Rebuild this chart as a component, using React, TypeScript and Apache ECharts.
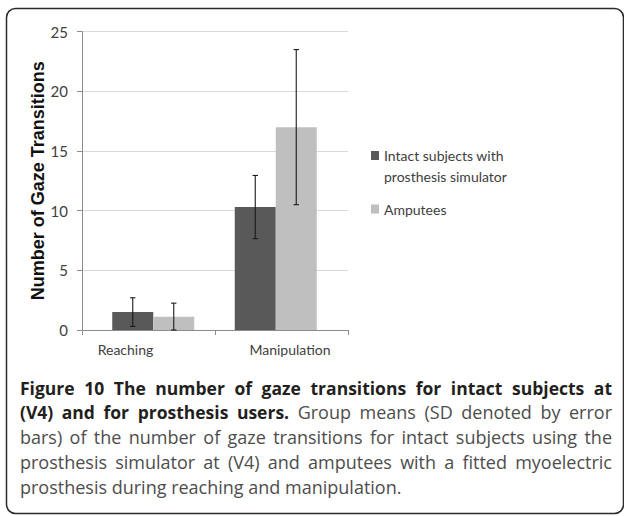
import React, { useEffect, useRef } from "react";
import * as echarts from "echarts";

const categories = ["Reaching", "Manipulation"];
const seriesNames = ["Intact subjects with prosthesis simulator", "Amputees"];
const legendLines: Record<string, string> = {
  "Intact subjects with prosthesis simulator": "Intact subjects with\nprosthesis simulator",
  Amputees: "Amputees",
};
const intactMeans = [1.5, 10.3];
const intactSD = [1.2, 2.65];
const amputeeMeans = [1.1, 17.0];
const amputeeSD = [1.15, 6.5];
const yMin = 0;
const yMax = 25;
const yInterval = 5;
const yAxisTitle = "Number of Gaze Transitions";
const captionBold1 = "Figure 10 The number of gaze transitions for intact subjects at";
const captionBold2 = "(V4) and for prosthesis users.";
const captionRest2 = "Group means (SD denoted by error";
const captionLines = [
  "bars) of the number of gaze transitions for intact subjects using the",
  "prosthesis simulator at (V4) and amputees with a fitted myoelectric",
  "prosthesis during reaching and manipulation.",
];

const BAR_W = 41;
const LABEL_FONT = "Lato, 'Open Sans', sans-serif";
const CAPTION_FAMILY = "'Open Sans', 'Noto Sans', sans-serif";
const BOLD = `bold 17.5px ${CAPTION_FAMILY}`;
const REG = `18px ${CAPTION_FAMILY}`;
const BOLD_FILL = "#231f20";
const REG_FILL = "#4d4d4d";
const CAPTION_X = 20;
const CAPTION_W = 592;

type Word = { t: string; b: boolean };

let measureCtx: CanvasRenderingContext2D | null = null;
function measure(text: string, font: string) {
  if (!measureCtx) measureCtx = document.createElement("canvas").getContext("2d");
  if (!measureCtx) return text.length * 8;
  measureCtx.font = font;
  return measureCtx.measureText(text).width;
}

function captionLine(words: Word[], y: number, justify: boolean) {
  const sum = words.reduce((a, w) => a + measure(w.t, w.b ? BOLD : REG), 0);
  const gap = justify ? Math.max(3, (CAPTION_W - sum) / (words.length - 1)) : measure(" ", REG);
  const text = words.map((w) => `{${w.b ? "b" : "r"}|${w.t}}`).join("{s| }");
  return {
    type: "text",
    x: CAPTION_X,
    y,
    silent: true,
    style: {
      text,
      verticalAlign: "middle",
      rich: {
        b: { font: BOLD, fill: BOLD_FILL },
        r: { font: REG, fill: REG_FILL },
        s: { font: REG, fill: REG_FILL, width: gap },
      },
    },
  };
}

const toWords = (s: string, b: boolean): Word[] => s.split(" ").map((t) => ({ t, b }));

function errorSeries(means: number[], sds: number[], offset: number) {
  return {
    type: "custom",
    silent: true,
    z: 5,
    xAxisIndex: 1,
    yAxisIndex: 1,
    data: means.map((m, i) => [i, m, sds[i]]),
    encode: { x: 0, y: 1 },
    renderItem: (params: any, api: any) => {
      const idx = api.value(0);
      const mean = api.value(1);
      const sd = api.value(2);
      const hi = api.coord([idx, mean + sd]);
      const lo = api.coord([idx, Math.max(0, mean - sd)]);
      const x = hi[0] + offset;
      const cap = 2.7;
      const st = { stroke: "#1a1a1a", lineWidth: 1.1 };
      return {
        type: "group",
        children: [
          { type: "line", shape: { x1: x, y1: hi[1], x2: x, y2: lo[1] }, style: st },
          { type: "line", shape: { x1: x - cap, y1: hi[1], x2: x + cap, y2: hi[1] }, style: st },
          { type: "line", shape: { x1: x - cap, y1: lo[1], x2: x + cap, y2: lo[1] }, style: st },
        ],
      };
    },
  };
}

export default function App() {
  const ref = useRef<HTMLDivElement>(null);
  useEffect(() => {
    if (!ref.current) return;
    const chart = echarts.init(ref.current, undefined, { renderer: "svg" });
    const captionGraphics: any[] = [
      {
        type: "rect",
        shape: { x: 6.5, y: 8.5, width: 617, height: 505, r: 9 },
        style: { fill: "none", stroke: "#2b2b2b", lineWidth: 1.5 },
        silent: true,
      },
      captionLine(toWords(captionBold1, true), 388, true),
      captionLine([...toWords(captionBold2, true), ...toWords(captionRest2, false)], 412, true),
      captionLine(toWords(captionLines[0], false), 437, true),
      captionLine(toWords(captionLines[1], false), 462, true),
      {
        type: "text",
        x: CAPTION_X,
        y: 487,
        silent: true,
        style: { text: captionLines[2], font: REG, fill: REG_FILL, verticalAlign: "middle" },
      },
    ];

    const axisGray = "#8c8c8c";
    chart.setOption({
      animation: false,
      backgroundColor: "#ffffff",
      grid: [
        { left: 82, right: 276, top: 31.7, bottom: 186, containLabel: false },
        { left: 92, right: 287, top: 31.7, bottom: 186, containLabel: false },
      ],
      legend: {
        data: seriesNames,
        orient: "vertical",
        left: 371,
        top: 124,
        padding: 0,
        itemGap: 11.5,
        itemWidth: 8,
        itemHeight: 9,
        icon: "rect",
        selectedMode: false,
        formatter: (name: string) => {
          const t = legendLines[name] || name;
          return t.indexOf("\n") >= 0 ? "\n" + t : t;
        },
        textStyle: {
          fontFamily: LABEL_FONT,
          fontSize: 14,
          lineHeight: 21,
          color: "#404040",
        },
      },
      xAxis: [
        {
          type: "category",
          gridIndex: 0,
          data: categories,
          axisLine: { lineStyle: { color: axisGray, width: 1 } },
          axisTick: { show: true, length: 5, lineStyle: { color: axisGray } },
          axisLabel: {
            fontFamily: LABEL_FONT,
            fontSize: 14,
            color: "#404040",
            margin: 12,
            formatter: (v: string, i: number) => (i === 0 ? `{l|${v}}` : `{r|${v}}`),
            rich: {
              l: { fontFamily: LABEL_FONT, fontSize: 14, color: "#404040", padding: [0, 46, 0, 0] },
              r: { fontFamily: LABEL_FONT, fontSize: 14, color: "#404040", padding: [0, 0, 0, 17] },
            },
          },
        },
        {
          type: "category",
          gridIndex: 1,
          data: categories,
          show: false,
        },
      ],
      yAxis: [
        {
          type: "value",
          gridIndex: 0,
          min: yMin,
          max: yMax,
          interval: yInterval,
          name: yAxisTitle,
          nameLocation: "middle",
          nameGap: 34,
          nameRotate: 90,
          nameTextStyle: {
            fontFamily: "'Liberation Sans', Arial, sans-serif",
            fontWeight: "bold",
            fontSize: 18,
            color: "#111111",
          },
          axisLine: { show: true, lineStyle: { color: axisGray, width: 1 } },
          axisTick: { show: true, length: 5, lineStyle: { color: axisGray } },
          axisLabel: { fontFamily: LABEL_FONT, fontSize: 15, color: "#404040", margin: 14 },
          splitLine: { lineStyle: { color: "#d9d9d9", width: 1 } },
        },
        {
          type: "value",
          gridIndex: 1,
          min: yMin,
          max: yMax,
          interval: yInterval,
          show: false,
          splitLine: { show: false },
        },
      ],
      series: [
        {
          name: seriesNames[0],
          type: "bar",
          xAxisIndex: 1,
          yAxisIndex: 1,
          data: intactMeans,
          barWidth: BAR_W,
          barGap: "0%",
          itemStyle: { color: "#595959" },
        },
        {
          name: seriesNames[1],
          type: "bar",
          xAxisIndex: 1,
          yAxisIndex: 1,
          data: amputeeMeans,
          barWidth: BAR_W,
          barGap: "0%",
          itemStyle: { color: "#bfbfbf" },
        },
        errorSeries(intactMeans, intactSD, -BAR_W / 2),
        errorSeries(amputeeMeans, amputeeSD, BAR_W / 2),
      ],
      graphic: captionGraphics,
    });
    return () => chart.dispose();
  }, []);
  return (
    <div
      ref={ref}
      style={{ position: "absolute", left: 0, top: 0, width: 624, height: 516, background: "#fff" }}
    />
  );
}
